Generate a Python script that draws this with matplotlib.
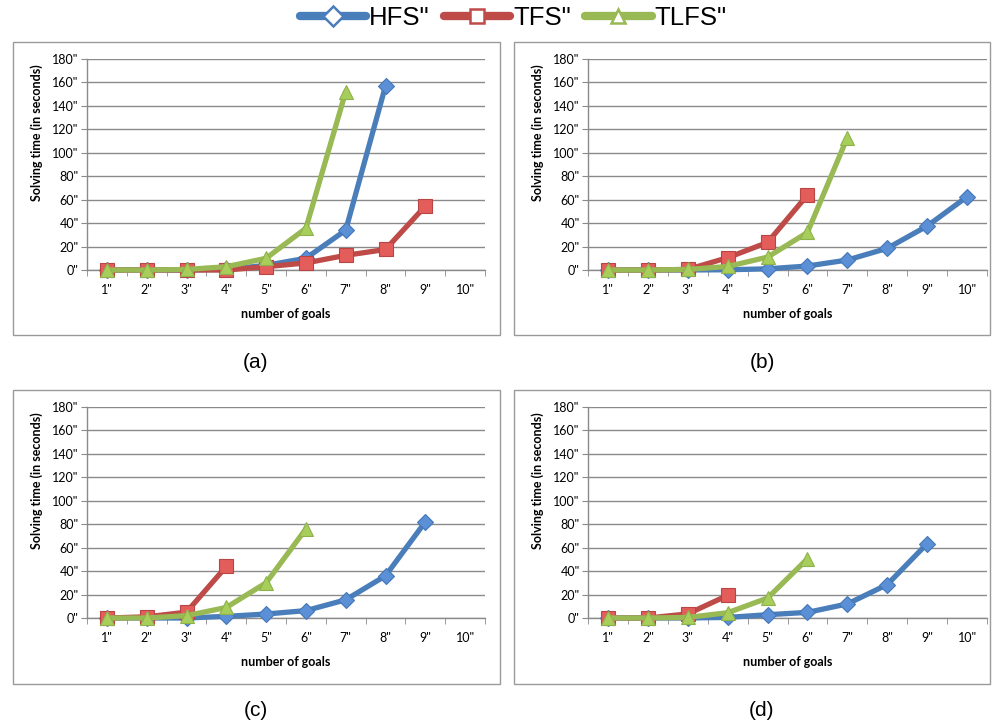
import matplotlib
matplotlib.use('Agg')
import matplotlib.pyplot as plt
from matplotlib.lines import Line2D
from matplotlib.patches import Rectangle

goals = ['1"', '2"', '3"', '4"', '5"', '6"', '7"', '8"', '9"', '10"']
yticks = [0, 20, 40, 60, 80, 100, 120, 140, 160, 180]
ytick_labels = ['0"', '20"', '40"', '60"', '80"', '100"', '120"', '140"', '160"', '180"']
series_names = ['HFS"', 'TFS"', 'TLFS"']
panel_labels = ['(a)', '(b)', '(c)', '(d)']

# solving times per panel (seconds), one list per planner
hfs_a = [0, 0, 0, 0.5, 4, 10, 34, 157]
tfs_a = [0, 0, 0, 0, 2.8, 6, 12.5, 17.5, 54.5]
tlfs_a = [0, 0, 0.5, 2.8, 10, 35.6, 152]

hfs_b = [0, 0, 0, 0.2, 1, 3.4, 8.5, 18.5, 37.5, 62.5]
tfs_b = [0, 0, 0.5, 10.5, 23.5, 64]
tlfs_b = [0, 0, 0.5, 3, 11, 32, 113]

hfs_c = [0, 0, 0, 1.4, 3.4, 6.3, 15.5, 36, 82]
tfs_c = [0, 1, 5, 44]
tlfs_c = [0, 0, 2, 9, 30, 76]

hfs_d = [0, 0, 0, 0.5, 2.8, 4.8, 12, 28.5, 63.5]
tfs_d = [0, 0, 3.5, 19.3]
tlfs_d = [0, 0, 0.5, 4.5, 17, 50.5]

panels = [(hfs_a, tfs_a, tlfs_a), (hfs_b, tfs_b, tlfs_b),
          (hfs_c, tfs_c, tlfs_c), (hfs_d, tfs_d, tlfs_d)]

line_colors = ['#4A7EBB', '#BE4B48', '#98B954']
face_colors = ['#5B8FD6', '#E35D5B', '#A7CE5A']
edge_colors = ['#4477B8', '#B84444', '#8FB24C']
markers = ['D', 's', '^']
msizes = [8, 9.5, 10]

W, H = 992, 725
fig = plt.figure(figsize=(W / 100, H / 100), dpi=100)

# axes rectangles in pixels: left, top, right, bottom
ax_px = [(87, 59, 485, 270), (588, 59, 987, 270),
         (87, 407, 485, 618), (588, 407, 987, 618)]
box_px = [(13, 42, 500, 335), (514, 42, 990, 335),
          (13, 390, 500, 684), (514, 390, 990, 684)]
label_px = [(256, 362), (762, 362), (256, 711), (762, 711)]

tick_font = 'Lato'
grid_col = '#8A8A8A'

for k, data in enumerate(panels):
    l, t, r, b = ax_px[k]
    ax = fig.add_axes([l / W, 1 - b / H, (r - l) / W, (b - t) / H])

    for i, vals in enumerate(data):
        ax.plot(range(len(vals)), vals, color=line_colors[i], lw=3.8,
                marker=markers[i], ms=msizes[i], mfc=face_colors[i],
                mec=edge_colors[i], mew=0.8, solid_capstyle='round',
                zorder=3 + i, clip_on=False)

    ax.set_xlim(-0.5, 9.5)
    ax.set_ylim(0, 180)
    ax.set_yticks(yticks)
    ax.set_yticklabels(ytick_labels, fontfamily=tick_font, fontsize=9)
    ax.set_xticks(range(10))
    ax.set_xticklabels(goals, fontfamily=tick_font, fontsize=9)
    ax.set_xticks([x - 0.5 for x in range(11)], minor=True)
    ax.tick_params(axis='x', which='major', length=0, pad=10)
    ax.tick_params(axis='x', which='minor', length=4, color=grid_col, direction='out')
    ax.tick_params(axis='y', length=4, color=grid_col, pad=2)
    ax.yaxis.grid(True, color=grid_col, lw=1)
    ax.set_axisbelow(True)
    for s in ['top', 'right']:
        ax.spines[s].set_visible(False)
    for s in ['left', 'bottom']:
        ax.spines[s].set_color(grid_col)
        ax.spines[s].set_linewidth(1)

    ax.set_xlabel('number of goals', fontfamily=tick_font, fontweight='bold', fontsize=9)
    ax.xaxis.set_label_coords(0.5, -38 / 211, transform=ax.transAxes)
    ax.set_ylabel('Solving time (in seconds)', fontfamily=tick_font, fontweight='bold', fontsize=9)
    ax.yaxis.set_label_coords(-44 / (r - l), (b - 133 - (t - 59)) / 211)

    x0, y0, x1, y1 = box_px[k]
    fig.patches.append(Rectangle((x0 / W, 1 - y1 / H), (x1 - x0) / W, (y1 - y0) / H,
                                 transform=fig.transFigure, fill=False,
                                 edgecolor='#9A9A9A', lw=1))

    lx, ly = label_px[k]
    fig.text(lx / W, 1 - ly / H, panel_labels[k], ha='center', va='center',
             fontfamily='Liberation Sans', fontsize=15)

handles = [Line2D([], [], color=line_colors[i], lw=6, solid_capstyle='round',
                  marker=markers[i], ms=10, mfc='white', mec=line_colors[i], mew=1.8)
           for i in range(3)]
fig.legend(handles, series_names, loc='center', bbox_to_anchor=(513 / W, 1 - 18 / H),
           ncol=3, frameon=False, handlelength=2.6, handletextpad=0.1,
           columnspacing=0.55, prop={'family': 'Liberation Sans', 'size': 18.5})

fig.savefig('out.png', dpi=100)
